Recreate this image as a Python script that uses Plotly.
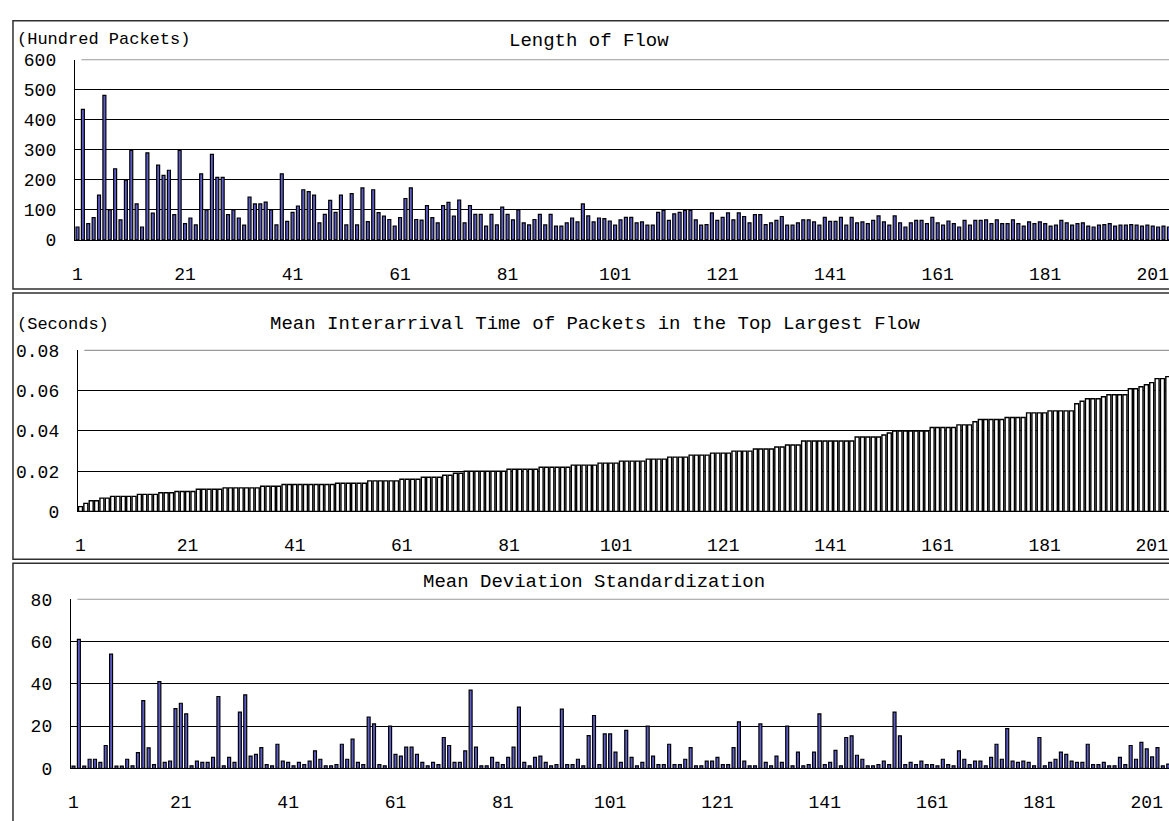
import plotly.graph_objects as go

W, H = 1169, 821

# ---------------- data ----------------
flow_index = list(range(1, 206))

flow_length = [
    43, 435, 54, 74, 149, 481, 100, 237, 67, 199,
    298, 120, 43, 290, 89, 249, 215, 232, 84, 298,
    54, 73, 50, 220, 100, 285, 208, 208, 84, 100,
    73, 49, 143, 120, 120, 126, 100, 50, 220, 62,
    92, 113, 167, 161, 149, 57, 85, 132, 92, 149,
    50, 154, 50, 173, 61, 167, 91, 79, 68, 46,
    74, 138, 173, 68, 66, 114, 74, 57, 114, 125,
    79, 133, 57, 114, 85, 85, 46, 85, 50, 109,
    85, 67, 100, 57, 50, 68, 85, 50, 85, 46,
    46, 57, 73, 60, 120, 80, 60, 73, 71, 63,
    49, 67, 75, 75, 57, 60, 49, 49, 92, 98,
    65, 87, 92, 98, 98, 67, 49, 51, 90, 65,
    75, 90, 67, 90, 78, 57, 84, 84, 51, 57,
    65, 78, 49, 49, 57, 67, 67, 60, 49, 75,
    62, 62, 75, 49, 75, 57, 60, 54, 65, 80,
    60, 49, 80, 57, 43, 57, 65, 65, 54, 75,
    57, 49, 63, 54, 43, 65, 49, 65, 65, 67,
    54, 67, 54, 54, 67, 54, 46, 60, 54, 60,
    54, 46, 49, 65, 57, 49, 54, 57, 46, 43,
    49, 51, 54, 46, 49, 49, 51, 49, 46, 49,
    46, 43, 46, 43, 44,
]

interarrival = [
    0.0024, 0.0040, 0.0053, 0.0053, 0.0066, 0.0066, 0.0075, 0.0075, 0.0075, 0.0075,
    0.0075, 0.0085, 0.0085, 0.0085, 0.0085, 0.0093, 0.0093, 0.0093, 0.0099, 0.0099,
    0.0099, 0.0099, 0.0110, 0.0110, 0.0110, 0.0110, 0.0110, 0.0117, 0.0117, 0.0117,
    0.0117, 0.0117, 0.0117, 0.0117, 0.0125, 0.0125, 0.0125, 0.0125, 0.0134, 0.0134,
    0.0134, 0.0134, 0.0134, 0.0134, 0.0134, 0.0134, 0.0134, 0.0134, 0.0140, 0.0140,
    0.0140, 0.0140, 0.0140, 0.0140, 0.0152, 0.0152, 0.0152, 0.0152, 0.0152, 0.0152,
    0.0160, 0.0160, 0.0160, 0.0160, 0.0170, 0.0170, 0.0170, 0.0170, 0.0180, 0.0180,
    0.0190, 0.0190, 0.0200, 0.0200, 0.0200, 0.0200, 0.0200, 0.0200, 0.0200, 0.0200,
    0.0210, 0.0210, 0.0210, 0.0210, 0.0210, 0.0210, 0.0220, 0.0220, 0.0220, 0.0220,
    0.0220, 0.0220, 0.0230, 0.0230, 0.0230, 0.0230, 0.0230, 0.0240, 0.0240, 0.0240,
    0.0240, 0.0250, 0.0250, 0.0250, 0.0250, 0.0250, 0.0260, 0.0260, 0.0260, 0.0260,
    0.0270, 0.0270, 0.0270, 0.0270, 0.0280, 0.0280, 0.0280, 0.0280, 0.0290, 0.0290,
    0.0290, 0.0290, 0.0300, 0.0300, 0.0300, 0.0300, 0.0310, 0.0310, 0.0310, 0.0310,
    0.0320, 0.0320, 0.0330, 0.0330, 0.0330, 0.0350, 0.0350, 0.0350, 0.0350, 0.0350,
    0.0350, 0.0350, 0.0350, 0.0350, 0.0350, 0.0370, 0.0370, 0.0370, 0.0370, 0.0370,
    0.0380, 0.0390, 0.0400, 0.0400, 0.0400, 0.0400, 0.0400, 0.0400, 0.0400, 0.0417,
    0.0417, 0.0417, 0.0417, 0.0417, 0.0430, 0.0430, 0.0430, 0.0446, 0.0457, 0.0457,
    0.0457, 0.0457, 0.0457, 0.0467, 0.0467, 0.0467, 0.0467, 0.0490, 0.0490, 0.0490,
    0.0490, 0.0500, 0.0500, 0.0500, 0.0500, 0.0500, 0.0535, 0.0548, 0.0560, 0.0560,
    0.0560, 0.0570, 0.0580, 0.0580, 0.0580, 0.0580, 0.0610, 0.0610, 0.0620, 0.0630,
    0.0640, 0.0660, 0.0660, 0.0670, 0.0670,
]

mean_dev = [
    1.0, 61, 1.0, 4.3, 4.3, 2.8, 10.8, 54, 1.0, 1.0,
    4.3, 1.2, 7.4, 32, 9.7, 1.8, 41, 2.8, 3.4, 28.3,
    30.8, 25.8, 1.2, 3.4, 2.8, 2.8, 5.2, 34, 1.2, 5.2,
    2.8, 26.6, 34.8, 5.8, 6.6, 9.8, 1.8, 1.2, 11.4, 3.4,
    2.8, 1.2, 2.8, 1.8, 3.4, 8.3, 4.3, 1.2, 1.2, 1.8,
    11.4, 4.3, 13.8, 2.8, 1.8, 24.3, 21, 1.8, 1.2, 20,
    6.6, 5.8, 10, 10, 6.6, 2.8, 1.2, 2.8, 1.8, 14.6,
    10.8, 2.8, 2.8, 8.3, 37, 10, 1.2, 1.2, 5.2, 2.8,
    1.8, 5.2, 10, 29, 2.8, 1.2, 5.2, 5.8, 2.8, 1.2,
    1.8, 28, 1.8, 1.8, 4.3, 1.2, 15.5, 25, 1.8, 16.3,
    16.3, 7.7, 2.8, 18, 5.2, 1.2, 2.8, 20, 5.8, 1.8,
    1.8, 11.4, 1.8, 1.8, 4.3, 9.8, 1.2, 1.2, 3.4, 3.4,
    5.2, 1.8, 1.8, 9.8, 22, 3.4, 1.2, 1.2, 21, 2.8,
    1.2, 5.8, 2.8, 20, 1.2, 7.7, 1.2, 1.8, 7.7, 25.8,
    1.8, 2.8, 8.5, 1.2, 14.6, 15.4, 6.2, 4.3, 1.2, 1.2,
    1.8, 3.4, 1.8, 26.6, 15.4, 1.8, 2.8, 1.8, 3.4, 1.8,
    1.8, 1.2, 4.3, 1.8, 1.2, 8.3, 4.3, 1.8, 3.4, 3.4,
    1.2, 5.2, 11.4, 4.3, 18.8, 3.4, 2.8, 3.4, 2.8, 1.2,
    14.6, 1.2, 2.8, 4.3, 7.7, 6.6, 3.4, 2.8, 2.8, 11.4,
    1.8, 1.8, 2.8, 1.2, 1.2, 5.2, 1.8, 10.8, 4.3, 12.3,
    9.2, 5.4, 9.8, 1.2, 2.0,
]

x_ticks = [1, 21, 41, 61, 81, 101, 121, 141, 161, 181, 201]
y1_ticks = [0, 100, 200, 300, 400, 500, 600]
y1_labels = ["0", "100", "200", "300", "400", "500", "600"]
y2_ticks = [0, 0.02, 0.04, 0.06, 0.08]
y2_labels = ["0", "0.02", "0.04", "0.06", "0.08"]
y3_ticks = [0, 20, 40, 60, 80]
y3_labels = ["0", "20", "40", "60", "80"]

titles = ["Length of Flow",
          "Mean Interarrival Time of Packets in the Top Largest Flow",
          "Mean Deviation Standardization"]
unit_labels = ["(Hundred Packets)", "(Seconds)"]

# ---------------- styling ----------------
FONT = "Liberation Mono, Courier New, monospace"
BAR_FILL = "#5E5ECB"


def px_x(p):
    return p / W


def px_y(p):
    return 1 - p / H


fig = go.Figure()
trace_styles = [
    (flow_length, "x", "y", BAR_FILL, 0.55, 1.2),
    (interarrival, "x2", "y2", "white", 0.74, 1.4),
    (mean_dev, "x3", "y3", BAR_FILL, 0.55, 1.2),
]
for vals, xa, ya, fill, bw, lw in trace_styles:
    fig.add_trace(go.Bar(
        x=flow_index, y=vals, xaxis=xa, yaxis=ya, width=bw,
        marker=dict(color=fill, line=dict(color="black", width=lw)),
        showlegend=False, hoverinfo="x+y",
    ))

# plot area geometry (pixels)
panels = [
    dict(left=72, top=52, bottom=236.7, step=5.39, yr=[0, 600], yt=y1_ticks, yl=y1_labels),
    dict(left=75, top=350, bottom=515, step=5.37, yr=[0, 0.08], yt=y2_ticks, yl=y2_labels),
    dict(left=68, top=605, bottom=778.3, step=5.38, yr=[0, 80], yt=y3_ticks, yl=y3_labels),
]

layout = dict(
    width=W, height=H,
    margin=dict(l=0, r=0, t=0, b=0),
    paper_bgcolor="white", plot_bgcolor="white",
    font=dict(family=FONT, size=18, color="black"),
    shapes=[], annotations=[],
)

for i, p in enumerate(panels):
    sx = "" if i == 0 else str(i + 1)
    xr_max = 0.5 + (W - p["left"]) / p["step"]
    layout["xaxis" + sx] = dict(
        domain=[px_x(p["left"]), 1], range=[0.5, xr_max],
        anchor="y" + sx, tickmode="array", tickvals=x_ticks,
        ticktext=[str(t) for t in x_ticks],
        showline=True, linecolor="black", linewidth=1,
        showgrid=False, zeroline=False, ticks="",
        tickfont=dict(family=FONT, size=18, color="black"),
        ticklabelstandoff=17, ticklabeloverflow="allow", fixedrange=True,
    )
    layout["yaxis" + sx] = dict(
        domain=[px_y(p["bottom"]), px_y(p["top"])], range=p["yr"],
        anchor="x" + sx, tickmode="array", tickvals=p["yt"], ticktext=p["yl"],
        showline=True, linecolor="black", linewidth=1,
        showgrid=True, gridcolor="black", gridwidth=1, zeroline=False,
        ticks="inside", ticklen=5, tickcolor="black",
        tickfont=dict(family=FONT, size=18, color="black"),
        ticklabelstandoff=14, fixedrange=True,
    )
    # lighter top gridline, as in the reference
    layout["shapes"].append(dict(
        type="line", xref="x" + sx + " domain", yref="y" + sx + " domain",
        x0=0.006, x1=1, y0=1, y1=1, line=dict(color="#9a9a9a", width=1.2),
        layer="above"))

# outer boxes of the three charts
for top, bottom in [(12, 287), (291, 564), (568, 835)]:
    layout["shapes"].append(dict(
        type="rect", xref="paper", yref="paper",
        x0=px_x(10), x1=px_x(W + 10), y0=px_y(bottom), y1=px_y(top),
        line=dict(color="#303030", width=1.5), fillcolor="rgba(0,0,0,0)",
        layer="below"))

# chart titles
for text, cx, cy in [(titles[0], 588, 33), (titles[1], 594, 323), (titles[2], 593, 587)]:
    layout["annotations"].append(dict(
        text=text, xref="paper", yref="paper", x=px_x(cx), y=px_y(cy),
        xanchor="center", yanchor="middle", showarrow=False,
        font=dict(family=FONT, size=19, color="black")))

# unit labels
for text, lx, cy in [(unit_labels[0], 12, 31), (unit_labels[1], 12, 323)]:
    layout["annotations"].append(dict(
        text=text, xref="paper", yref="paper", x=px_x(lx), y=px_y(cy),
        xanchor="left", yanchor="middle", showarrow=False,
        font=dict(family=FONT, size=17, color="black")))

fig.update_layout(**layout)
fig.write_html(
    "out.html",
    config={"displayModeBar": False},
    post_script="document.body.style.margin='0px';document.body.style.overflow='hidden';",
)
